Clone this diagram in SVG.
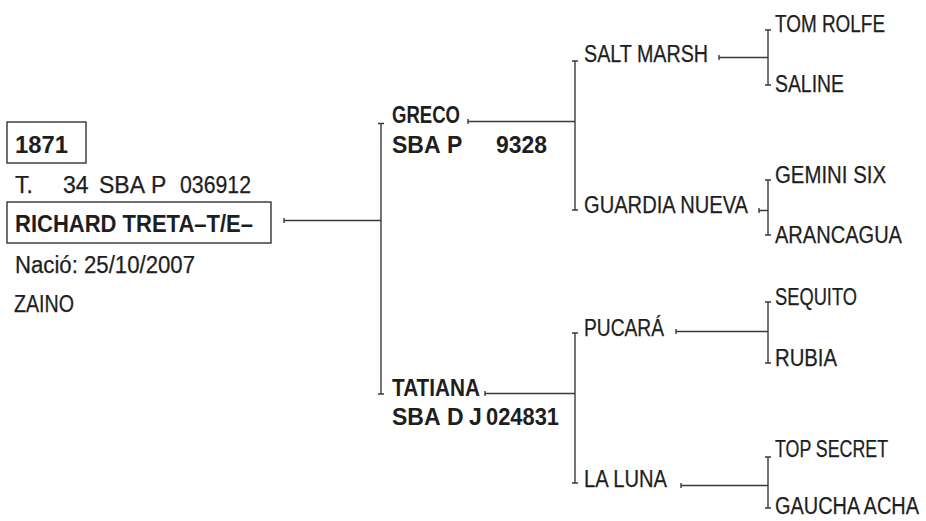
<svg xmlns="http://www.w3.org/2000/svg" width="926" height="521" viewBox="0 0 926 521">
<style>
text{font-family:"Liberation Sans",Arial,sans-serif;fill:#1e1e1e;font-size:23px;stroke:#1e1e1e;stroke-width:0.25}
.b{font-weight:bold;stroke-width:0}
.box{fill:none;stroke:#333;stroke-width:1.4}
.ln{fill:none;stroke:#3a3a3a;stroke-width:1.4}
</style>
<rect width="926" height="521" fill="#fff"/>
<g id="subject">
<rect class="box" x="7" y="122" width="79" height="41"/>
<text class="b" x="15" y="153" font-size="25" textLength="53" lengthAdjust="spacingAndGlyphs">1871</text>
<text y="193" font-size="22"><tspan x="15">T.</tspan><tspan x="63">34</tspan><tspan x="99">SBA</tspan><tspan x="151">P</tspan><tspan x="180" textLength="71" lengthAdjust="spacingAndGlyphs">036912</tspan></text>
<rect class="box" x="7" y="202" width="264" height="41"/>
<text class="b" x="15" y="232" font-size="26" textLength="238" lengthAdjust="spacingAndGlyphs">RICHARD TRETA–T/E–</text>
<text x="15" y="273" font-size="22" textLength="180" lengthAdjust="spacingAndGlyphs">Nació: 25/10/2007</text>
<text x="14" y="312" font-size="22" textLength="60" lengthAdjust="spacingAndGlyphs">ZAINO</text>
</g>
<g id="sire">
<text class="b" x="392" y="123" textLength="68" lengthAdjust="spacingAndGlyphs">GRECO</text>
<text class="b" y="153"><tspan x="392">SBA</tspan><tspan x="447">P</tspan><tspan x="496" textLength="51" lengthAdjust="spacingAndGlyphs">9328</tspan></text>
</g>
<g id="dam">
<text class="b" x="392" y="396" textLength="88" lengthAdjust="spacingAndGlyphs">TATIANA</text>
<text class="b" y="425"><tspan x="392">SBA</tspan><tspan x="447">D</tspan><tspan x="469">J</tspan><tspan x="486" textLength="73" lengthAdjust="spacingAndGlyphs">024831</tspan></text>
</g>
<g id="salt-marsh"><text x="584" y="62" textLength="124" lengthAdjust="spacingAndGlyphs">SALT MARSH</text></g>
<g id="guardia-nueva"><text x="584" y="213" textLength="164" lengthAdjust="spacingAndGlyphs">GUARDIA NUEVA</text></g>
<g id="pucara"><text x="584" y="336" textLength="80" lengthAdjust="spacingAndGlyphs">PUCARÁ</text></g>
<g id="la-luna"><text x="584" y="487" textLength="83" lengthAdjust="spacingAndGlyphs">LA LUNA</text></g>
<g id="tom-rolfe"><text x="775" y="32" textLength="110" lengthAdjust="spacingAndGlyphs">TOM ROLFE</text></g>
<g id="saline"><text x="775" y="92" textLength="69" lengthAdjust="spacingAndGlyphs">SALINE</text></g>
<g id="gemini-six"><text x="775" y="183" textLength="111" lengthAdjust="spacingAndGlyphs">GEMINI SIX</text></g>
<g id="arancagua"><text x="775" y="243" textLength="127" lengthAdjust="spacingAndGlyphs">ARANCAGUA</text></g>
<g id="sequito"><text x="775" y="305" textLength="82" lengthAdjust="spacingAndGlyphs">SEQUITO</text></g>
<g id="rubia"><text x="775" y="366" textLength="62" lengthAdjust="spacingAndGlyphs">RUBIA</text></g>
<g id="top-secret"><text x="775" y="457" textLength="113" lengthAdjust="spacingAndGlyphs">TOP SECRET</text></g>
<g id="gaucha-acha"><text x="775" y="514" font-size="21.5" textLength="144" lengthAdjust="spacingAndGlyphs">GAUCHA ACHA</text></g>
<g id="connectors" class="ln">
<path d="M284 218v5M284 220.5H381"/>
<path d="M381 123.5V394M378 123.5h6M378 394h6"/>
<path d="M468 119v5M468 121.5H575"/>
<path d="M575 61V210M572 61h6M572 210h6"/>
<path d="M485 391v5M485 393.5H575"/>
<path d="M575 333V483M572 333h6M572 483h6"/>
<path d="M719 55v5M719 57.5H768"/>
<path d="M768 30V85M765 30h6M765 85h6"/>
<path d="M759 208v5M759 210.5H768"/>
<path d="M768 180V235M765 180h6M765 235h6"/>
<path d="M676 329v5M676 331.5H768"/>
<path d="M768 302V363M765 302h6M765 363h6"/>
<path d="M681 483v5M681 485.5H768"/>
<path d="M768 457V508M765 457h6M765 508h6"/>
</g>
</svg>
